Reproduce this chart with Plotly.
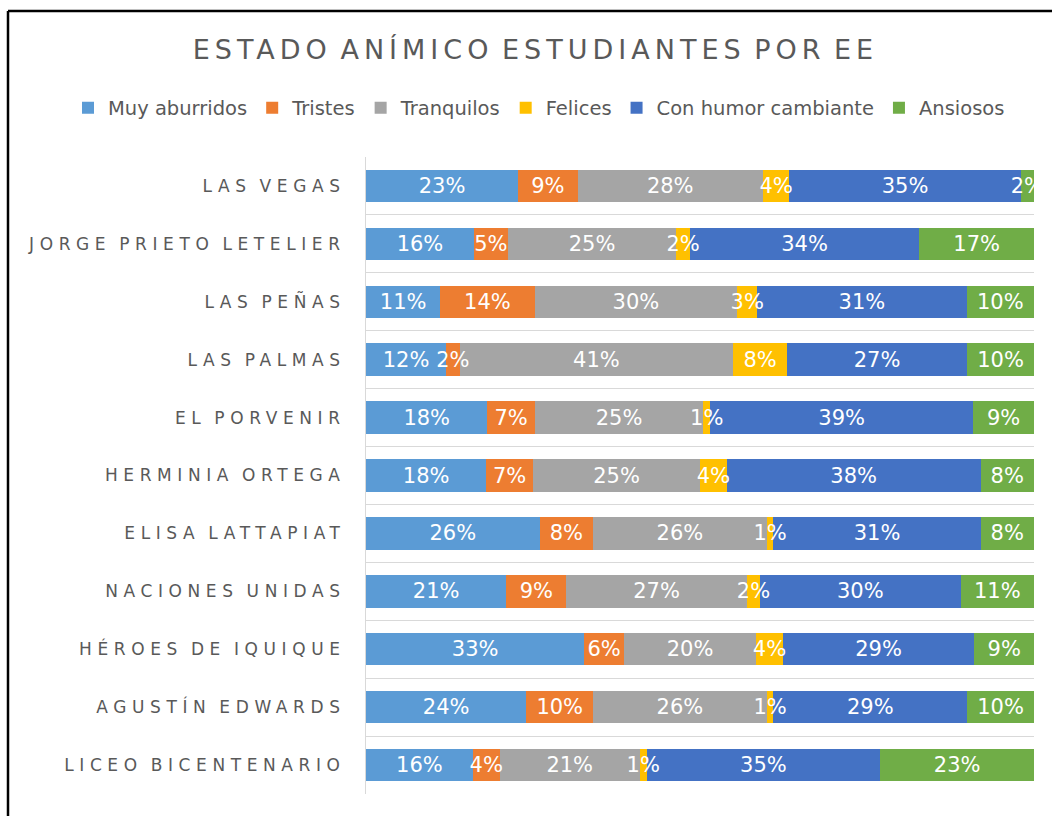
import plotly.graph_objects as go

schools = ["LAS VEGAS", "JORGE PRIETO LETELIER", "LAS PEÑAS", "LAS PALMAS", "EL PORVENIR",
           "HERMINIA ORTEGA", "ELISA LATTAPIAT", "NACIONES UNIDAS", "HÉROES DE IQUIQUE",
           "AGUSTÍN EDWARDS", "LICEO BICENTENARIO"]

muy_aburridos = [23, 16, 11, 12, 18, 18, 26, 21, 33, 24, 16]
tristes = [9, 5, 14, 2, 7, 7, 8, 9, 6, 10, 4]
tranquilos = [28, 25, 30, 41, 25, 25, 26, 27, 20, 26, 21]
felices = [4, 2, 3, 8, 1, 4, 1, 2, 4, 1, 1]
con_humor = [35, 34, 31, 27, 39, 38, 31, 30, 29, 29, 35]
ansiosos = [2, 17, 10, 10, 9, 8, 8, 11, 9, 10, 23]

series_names = ["Muy aburridos", "Tristes", "Tranquilos", "Felices", "Con humor cambiante", "Ansiosos"]
series_values = [muy_aburridos, tristes, tranquilos, felices, con_humor, ansiosos]
colors = ["#5B9BD5", "#ED7D31", "#A5A5A5", "#FFC000", "#4472C4", "#70AD47"]

FONT = "DejaVu Sans"
fig = go.Figure()

# coloured bars
for name, vals, col in zip(series_names, series_values, colors):
    fig.add_trace(go.Bar(
        y=schools, x=vals, name=name, orientation="h",
        marker=dict(color=col, line=dict(width=0)),
        hoverinfo="skip", xaxis="x", yaxis="y",
    ))

# labels on an overlaid axis so they sit above all bars
for name, vals in zip(series_names, series_values):
    fig.add_trace(go.Bar(
        y=schools, x=vals, name=name, orientation="h", showlegend=False,
        marker=dict(color="rgba(0,0,0,0)", line=dict(width=0)),
        text=[f"{v}%" for v in vals], textposition="inside", insidetextanchor="middle",
        textangle=0, textfont=dict(family=FONT, size=21, color="white"),
        hoverinfo="skip", xaxis="x2", yaxis="y",
    ))

L, R, T, B = 366, 1034, 157, 794
W, H = 1052, 816
pw, ph = R - L, B - T

def px(x):
    return (x - L) / pw

def py(y):
    return (B - y) / ph

fig.update_layout(
    width=W, height=H,
    margin=dict(l=L, r=W - R, t=T, b=H - B),
    paper_bgcolor="white", plot_bgcolor="white",
    barmode="stack", barnorm="percent", bargap=0.44,
    uniformtext=dict(minsize=21, mode="show"),
    title=dict(text="ESTADO ANÍMICO ESTUDIANTES POR EE", xref="container", x=0.509,
               yref="container", y=1 - 50 / H, xanchor="center", yanchor="middle",
               font=dict(family=FONT, size=27, color="#595959")),
    legend=dict(orientation="h", xref="paper", x=px(68), xanchor="left",
                yref="paper", y=py(108), yanchor="middle",
                font=dict(family=FONT, size=19.5, color="#595959"), traceorder="normal",
                itemclick=False, itemdoubleclick=False),
    xaxis=dict(range=[0, 100], showgrid=False, zeroline=False, showticklabels=False,
               showline=False, fixedrange=True),
    xaxis2=dict(range=[0, 100], overlaying="x", showgrid=False, zeroline=False,
                showticklabels=False, showline=False, visible=False, fixedrange=True),
    yaxis=dict(autorange="reversed", type="category", tickson="boundaries",
               showgrid=True, gridcolor="#D9D9D9", gridwidth=1,
               showline=True, linecolor="#D9D9D9", linewidth=1, ticks="",
               ticklabelstandoff=16,
               tickfont=dict(family=FONT, size=17, color="#595959"), fixedrange=True),
    hovermode=False,
    shapes=[
        dict(type="line", xref="paper", yref="paper", x0=px(8), x1=px(1060), y0=py(11), y1=py(11),
             line=dict(color="black", width=2.5)),
        dict(type="line", xref="paper", yref="paper", x0=px(8), x1=px(8), y0=py(11), y1=py(830),
             line=dict(color="black", width=2.5)),
    ],
)

post = """
document.body.style.margin = '0';
var gd = document.getElementById('{plot_id}');
function sp(){
  gd.querySelectorAll('.ytick text').forEach(function(t){ t.style.letterSpacing = '5.6px'; t.style.wordSpacing = '-3px'; });
  gd.querySelectorAll('.gtitle').forEach(function(t){ t.style.letterSpacing = '5px'; t.style.wordSpacing = '-5px'; });
}
sp();
gd.on('plotly_afterplot', sp);
"""

fig.write_html("out.html", config={"displayModeBar": False}, post_script=post)
